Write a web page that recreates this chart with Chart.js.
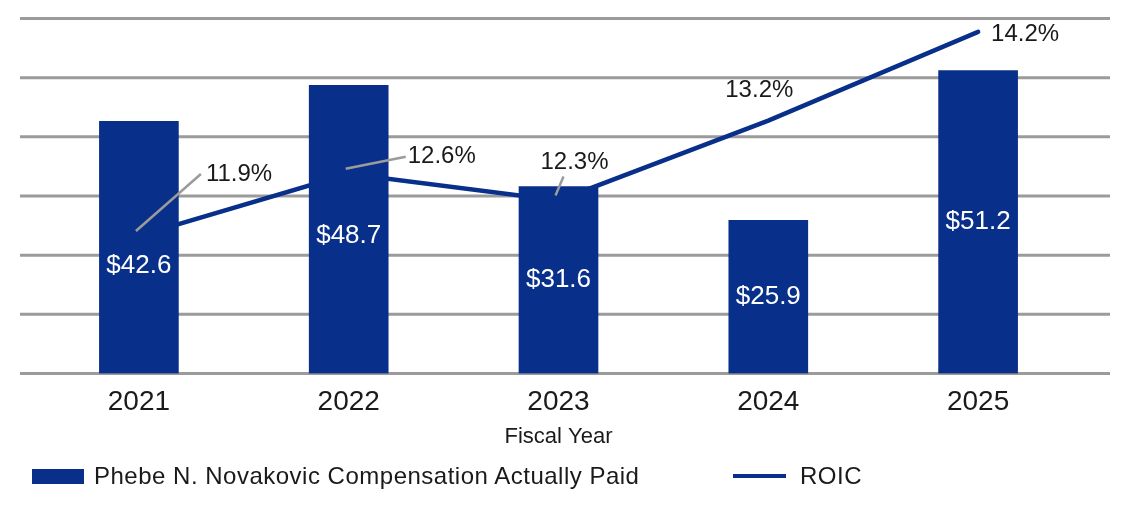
<!DOCTYPE html>
<html>
<head>
<meta charset="utf-8">
<script src="https://cdn.jsdelivr.net/npm/chart.js@4.4.1/dist/chart.umd.min.js"></script>
<style>
  body { margin: 0; background: #fff; font-family: "Liberation Sans", Arial, sans-serif; }
  #wrap { position: relative; width: 1124px; height: 505px; }
  .leg { position: absolute; top: 462px; height: 28px; display: flex; align-items: center; font-size: 24px; letter-spacing: 0.5px; color: #1a1a1a; }
  .leg .sw { display: inline-block; margin-right: 10px; }
  #leg0 { left: 32px; }
  #leg1 { left: 733px; }
</style>
</head>
<body>
<div id="wrap">
  <canvas id="chart_1" width="1124" height="505"></canvas>
  <div id="leg0" class="leg"></div>
  <div id="leg1" class="leg"></div>
</div>
<script>
const years = ['2021', '2022', '2023', '2024', '2025']
const compensation = [42.6, 48.7, 31.6, 25.9, 51.2]
const roic = [11.9, 12.6, 12.3, 13.2, 14.2]

const navy = '#08308a'
const grey = '#9b9b9b'

// grid lines run wider than the plot area, like the original
const gridLines = {
  id: 'gridLines',
  beforeDatasetsDraw(chart) {
    const ctx = chart.ctx, y = chart.scales.y
    ctx.save()
    ctx.strokeStyle = grey
    ctx.lineWidth = 3
    y.ticks.forEach(t => {
      const py = y.getPixelForValue(t.value)
      ctx.beginPath()
      ctx.moveTo(20, py)
      ctx.lineTo(1110, py)
      ctx.stroke()
    })
    ctx.restore()
  }
}

// value labels: white $ inside bars, % with leader lines for ROIC
const barShift = [18, 6, 0, 0, 0]
const pctPos = [
  { dx: 67, dy: -62, align: 'left', lead: [62, -62] },
  { dx: 59, dy: -17, align: 'left', lead: [57, -17] },
  { dx: 16, dy: -38, align: 'center', lead: [5, -24] },
  { dx: -9, dy: -30, align: 'center', lead: null },
  { dx: 13, dy: 3, align: 'left', lead: null }
]
const valueLabels = {
  id: 'valueLabels',
  afterDatasetsDraw(chart) {
    const ctx = chart.ctx
    const bars = chart.getDatasetMeta(0).data
    const pts = chart.getDatasetMeta(1).data
    ctx.save()
    ctx.textBaseline = 'middle'
    ctx.font = '26px "Liberation Sans", Arial'
    ctx.fillStyle = '#fff'
    ctx.textAlign = 'center'
    bars.forEach((b, i) => {
      const mid = (b.y + b.base) / 2 + barShift[i]
      ctx.fillText('$' + compensation[i].toFixed(1), b.x, mid)
    })
    ctx.font = '24px "Liberation Sans", Arial'
    ctx.fillStyle = '#1a1a1a'
    pts.forEach((p, i) => {
      const o = pctPos[i]
      if (o.lead) {
        ctx.strokeStyle = grey
        ctx.lineWidth = 2.5
        ctx.beginPath()
        ctx.moveTo(p.x - 3, p.y - 5)
        ctx.lineTo(p.x + o.lead[0], p.y + o.lead[1])
        ctx.stroke()
      }
      ctx.textAlign = o.align
      ctx.fillText(roic[i].toFixed(1) + '%', p.x + o.dx, p.y + o.dy)
    })
    ctx.restore()
  }
}

Chart.defaults.font.family = '"Liberation Sans", Arial, sans-serif'
Chart.defaults.color = '#1a1a1a'

const ctx = document.getElementById('chart_1')
const data = {
  labels: years,
  datasets: [{
    type: 'bar',
    label: 'Phebe N. Novakovic Compensation Actually Paid',
    data: compensation,
    backgroundColor: navy,
    barThickness: 79,
    yAxisID: 'y',
    order: 1
  }, {
    type: 'line',
    label: 'ROIC',
    data: roic,
    borderColor: navy,
    borderWidth: 4.5,
    borderCapStyle: 'round',
    tension: 0,
    pointRadius: 0,
    yAxisID: 'y2',
    order: 2
  }]
}
const config = {
  data: data,
  options: {
    responsive: false,
    animation: false,
    devicePixelRatio: 1,
    layout: { padding: { left: 34, right: 41, top: 18.5, bottom: 50.5 } },
    plugins: { legend: { display: false }, tooltip: { enabled: false } },
    scales: {
      x: {
        grid: { display: false, drawTicks: false },
        border: { display: false },
        ticks: { font: { size: 28 }, padding: 12, color: '#1a1a1a' },
        title: { display: true, text: 'Fiscal Year', font: { size: 22 }, color: '#1a1a1a', padding: { top: -7, bottom: 4 } }
      },
      y: {
        min: 0, max: 60,
        ticks: { display: false, stepSize: 10 },
        grid: { display: false, drawTicks: false },
        border: { display: false }
      },
      y2: {
        position: 'right',
        min: 10.35, max: 14.35,
        ticks: { display: false },
        grid: { display: false, drawTicks: false },
        border: { display: false }
      }
    }
  },
  plugins: [gridLines, valueLabels]
}
const chart = new Chart(ctx, config)

// legend built from the datasets
chart.data.datasets.forEach((ds, i) => {
  const el = document.getElementById('leg' + i)
  const sw = document.createElement('span')
  sw.className = 'sw'
  sw.style.background = ds.type === 'bar' ? ds.backgroundColor : ds.borderColor
  sw.style.width = ds.type === 'bar' ? '52px' : '53px'
  sw.style.height = ds.type === 'bar' ? '15px' : '4.5px'
  if (ds.type !== 'bar') sw.style.marginRight = '14px'
  el.appendChild(sw)
  el.appendChild(document.createTextNode(ds.label))
})
</script>
</body>
</html>
